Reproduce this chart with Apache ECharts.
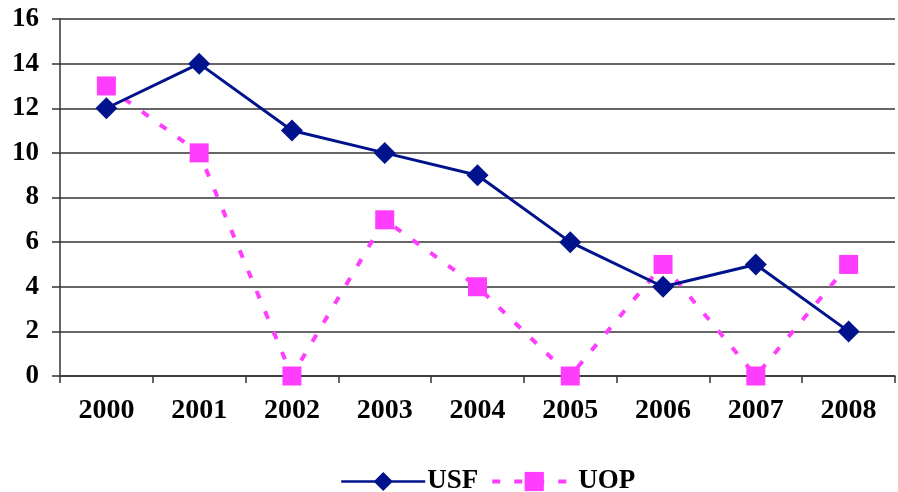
<!DOCTYPE html>
<html>
<head>
<meta charset="utf-8">
<script src="https://cdn.jsdelivr.net/npm/echarts@6/dist/echarts.min.js"></script>
<style>
  html, body { margin: 0; padding: 0; background: #fff; }
  #chart { width: 898px; height: 492px; }
</style>
</head>
<body>
<div id="chart"></div>
<script>
const years = ['2000', '2001', '2002', '2003', '2004', '2005', '2006', '2007', '2008'];
const usf = [12, 14, 11, 10, 9, 6, 4, 5, 2];
const uop = [13, 10, 0, 7, 4, 0, 5, 0, 5];
const yMin = 0, yMax = 16, yStep = 2;

const serif = '"Liberation Serif", "Times New Roman", serif';
const navy = '#00138c';
const pink = '#ff3dff';
const chart = echarts.init(document.getElementById('chart'), null, { renderer: 'canvas' });

chart.setOption({
  animation: false,
  backgroundColor: '#fff',
  textStyle: { fontFamily: serif, fontWeight: 'bold', color: '#000' },
  grid: { left: 60, right: 3, top: 19, bottom: 116, containLabel: false },
  legend: {
    left: 335,
    top: 463,
    itemWidth: 84,
    itemHeight: 24,
    itemGap: 12,
    textStyle: { fontFamily: serif, fontWeight: 'bold', fontSize: 27, color: '#000', padding: [0, 0, 0, -3] },
    data: [
      { name: 'USF', lineStyle: { width: 2.5, color: navy } },
      { name: 'UOP', lineStyle: { width: 4, color: pink, type: [8, 14] } }
    ]
  },
  xAxis: {
    type: 'category',
    data: years,
    boundaryGap: true,
    axisLine: { show: true, lineStyle: { color: '#333', width: 1.5 } },
    axisTick: { show: true, length: 7, inside: false, lineStyle: { color: '#333', width: 1.5 } },
    axisLabel: { fontFamily: serif, fontWeight: 'bold', fontSize: 28, color: '#000', margin: 21 },
    splitLine: { show: false }
  },
  yAxis: {
    type: 'value',
    min: yMin,
    max: yMax,
    interval: yStep,
    axisLine: { show: true, lineStyle: { color: '#333', width: 1.5 } },
    axisTick: { show: true, length: 8, lineStyle: { color: '#333', width: 1.5 } },
    axisLabel: { fontFamily: serif, fontWeight: 'bold', fontSize: 27, color: '#000', margin: 21 },
    splitLine: { show: true, lineStyle: { color: '#333', width: 1.5 } }
  },
  series: [
    {
      name: 'USF',
      type: 'line',
      data: usf,
      clip: false,
      symbol: 'diamond',
      symbolSize: [22, 22],
      itemStyle: { color: navy },
      lineStyle: { color: navy, width: 3 },
      z: 3
    },
    {
      name: 'UOP',
      type: 'line',
      data: uop,
      clip: false,
      symbol: 'rect',
      symbolSize: 19,
      itemStyle: { color: pink },
      lineStyle: { color: pink, width: 4, type: [8, 14] },
      z: 2
    }
  ]
});
</script>
</body>
</html>
